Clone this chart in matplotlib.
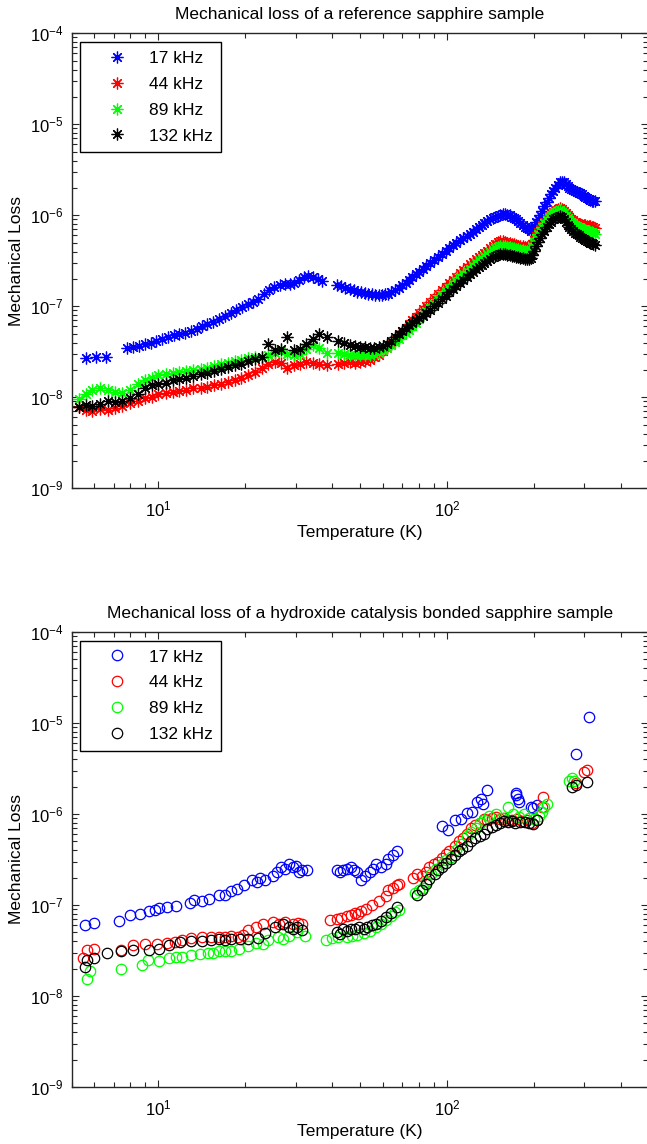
import matplotlib
matplotlib.use("Agg")
import matplotlib.pyplot as plt
import numpy as np
from matplotlib.ticker import LogLocator, NullFormatter

plt.rcParams['font.family'] = ['Liberation Sans', 'DejaVu Sans']
plt.rcParams['mathtext.default'] = 'regular'
plt.rcParams['axes.unicode_minus'] = False

# ---------------- data: reference sapphire sample (top) ----------------
T_top_blue = [5.6, 6.1, 6.6, 7.8, 8.2, 8.6, 9.0, 9.4, 9.8, 10.3, 10.8, 11.3, 11.8, 12.4,
              13.0, 13.6, 14.2, 14.8, 15.5, 16.2, 17.0, 17.8, 18.6, 19.5, 20.4, 21.3, 22.2,
              23.2, 24.2, 25.2, 26.3, 27.4, 28.5, 29.6, 30.7, 31.9, 33.1, 34.4, 35.7, 37.0,
              41.5, 43, 44.5, 46, 47.5, 49, 50.5, 52, 53.5, 55, 56.5, 58, 59.5, 61, 62.5, 64,
              66, 68, 70, 72, 74, 76, 78, 80, 82.5, 85, 87.5, 90,
              93, 96, 99, 102, 105, 108, 111, 114, 117, 120, 123, 126, 129, 132, 135, 138,
              141, 144, 147, 150, 153, 156, 159, 162, 165, 168, 171, 174, 177, 180, 183, 186,
              189, 192, 195, 198, 201, 204, 207, 210,
              214, 218, 222, 226, 230, 234, 238, 242, 246, 250, 254, 258, 262, 266, 270, 274,
              278, 282, 286, 290, 294, 298, 302, 306, 310, 314, 318, 322, 326]
loss_top_17 = [27, 28, 28, 35, 36, 37, 39, 40, 42, 44, 46, 48, 50, 51, 54, 56, 60, 64, 68, 73,
               79, 85, 90, 98, 105, 112, 120, 135, 150, 165, 170, 175, 175, 180, 195, 210, 215,
               210, 200, 190,
               170, 168, 160, 155, 150, 145, 142, 140, 138, 135, 133, 133, 132, 135, 138, 142,
               150, 160, 170, 182, 195, 210, 225, 240, 260, 280, 300, 320,
               350, 380, 410, 440, 470, 500, 530, 560, 590, 620, 660, 700, 740, 780, 820, 860,
               900, 930, 960, 990, 1020, 1030, 1030, 1020, 1000, 970, 940, 900, 860, 820, 780,
               750, 720, 700, 680, 700, 760, 840, 920, 1000,
               1120, 1250, 1400, 1550, 1700, 1850, 2000, 2150, 2300, 2350, 2300, 2200, 2100,
               2000, 1950, 1900, 1850, 1800, 1780, 1750, 1700, 1650, 1600, 1550, 1500, 1480,
               1450, 1450, 1420]

T_top = [5.3, 5.6, 5.9, 6.3, 6.7, 7.1, 7.5, 8.0, 8.5, 9.0, 9.5, 10.0, 10.6, 11.2, 11.8, 12.5,
         13.2, 14.0, 14.8, 15.6, 16.5, 17.4, 18.4, 19.4, 20.5, 21.6, 22.8, 24.0, 25.3, 26.6,
         28.0, 29.5, 31.0, 32.6, 34.3, 36.0, 38.5,
         42, 44, 46, 48, 50, 52, 54, 56, 58, 60, 62, 64, 66, 68, 70, 72, 74, 76, 78, 80,
         82.5, 85, 87.5, 90,
         93, 96, 99, 102, 105, 108, 111, 114, 117, 120, 123, 126, 129, 132, 135, 138,
         141, 144, 147, 150, 153, 156, 159, 162, 165, 168, 171, 174, 177, 180, 183, 186,
         189, 192, 195, 198, 201, 204, 207, 210,
         214, 218, 222, 226, 230, 234, 238, 242, 246, 250, 254, 258, 262, 266, 270, 274,
         278, 282, 286, 290, 294, 298, 302, 306, 310, 314, 318, 322, 326]
loss_top_44 = [7.8, 7.2, 7.0, 7.4, 7.3, 7.6, 8.0, 8.6, 9.2, 9.8, 10.2, 10.8, 11.2, 11.5, 11.8,
               12.0, 12.5, 12.8, 13.0, 13.5, 14.0, 14.8, 15.5, 16.2, 17.5, 19, 21, 23.5, 24.5,
               24, 21, 22.5, 23.5, 24.5, 24, 23, 22.5,
               23, 24, 24.5, 24, 24.5, 25, 26, 27.5, 29.5, 32, 35, 39, 43, 48, 53, 58, 64, 70,
               77, 84,
               93, 102, 112, 122,
               135, 150, 165, 180, 195, 210, 230, 250, 270, 290, 310, 330, 350, 370, 390, 410,
               435, 460, 485, 510, 520, 520, 510, 500, 490, 485, 480, 470, 465, 460, 455, 450,
               450, 445, 450, 480, 530, 590, 650, 710,
               780, 850, 920, 980, 1040, 1100, 1150, 1180, 1200, 1180, 1120, 1060, 1000, 950,
               910, 880, 850, 830, 810, 800, 790, 780, 780, 770, 760, 760, 750, 740, 730]
loss_top_89 = [9.5, 11, 12, 12.5, 12, 11.5, 11.2, 12, 14, 15.5, 16.5, 17.5, 18, 18.5, 19, 19.5,
               20, 20.5, 21, 22, 23, 24, 25, 26, 27, 27.5, 28, 29, 31, 32, 30, 29.5, 30, 34,
               38, 35, 31,
               30.5, 30, 29.5, 29, 29, 29, 29.5, 30, 31, 33, 35, 38, 41, 44, 48, 51, 55, 60, 66,
               73,
               80, 88, 97, 107,
               120, 133, 147, 160, 175, 190, 208, 225, 242, 260, 280, 300, 320, 335, 355, 375,
               395, 415, 435, 450, 460, 460, 455, 450, 445, 440, 435, 430, 425, 420, 415, 410,
               410, 410, 420, 450, 500, 560, 620, 680,
               750, 820, 890, 950, 1000, 1050, 1090, 1120, 1130, 1100, 1050, 990, 940, 890,
               850, 820, 790, 770, 750, 730, 710, 700, 690, 680, 670, 660, 650, 640, 630]
loss_top_132 = [7.8, 8.2, 8.0, 8.5, 9.0, 8.8, 9.2, 9.8, 11, 12.5, 13.5, 14, 14.5, 15.5, 16,
                16.5, 17.2, 18, 18.5, 19.5, 20.5, 21.5, 22.5, 23.5, 25, 26.5, 28, 39, 33, 34,
                46, 33, 34, 39, 44, 49, 46,
                42, 40, 38, 37, 36, 35.5, 35, 35, 35.5, 37, 39, 42, 46, 50, 54, 58, 62, 66, 70,
                74,
                79, 85, 92, 100,
                110, 120, 130, 142, 155, 168, 182, 195, 210, 225, 240, 255, 270, 285, 300, 315,
                330, 345, 360, 370, 380, 380, 375, 370, 365, 360, 355, 350, 345, 340, 340, 335,
                335, 335, 340, 370, 410, 460, 510, 560,
                620, 680, 740, 800, 850, 900, 940, 970, 980, 950, 900, 840, 790, 740, 700, 670,
                640, 620, 600, 580, 565, 550, 535, 520, 510, 500, 490, 480, 470]

# ---------------- data: bonded sapphire sample (bottom) ----------------
T_bot_17 = [5.56, 6.0, 7.3, 7.98, 8.67, 9.27, 9.7, 10.06, 10.7, 11.5, 12.9, 13.3, 14.2, 14.96,
            16.2, 17.0, 17.9, 18.8, 19.8, 21.1, 22.0, 22.5, 23.5, 24.9, 25.7, 26.6, 27.5, 28.4,
            29.3, 30.0, 30.8, 31.4, 32.7,
            41.5, 42.5, 43.7, 45, 46.6, 47.5, 48.9, 50.6, 52, 54.2, 55.5, 56.8, 59, 61.5, 62.7,
            65, 67,
            96.4, 101, 106.6, 111.8, 117, 122, 127, 131, 133, 138,
            173, 174, 176, 178, 195, 199, 205,
            280, 310]
loss_bot_17 = [60, 63, 66, 77, 80, 85, 88, 92, 95, 97, 106, 113, 110, 115, 129, 130, 143, 150,
               165, 188, 180, 200, 190, 210, 230, 260, 250, 285, 260, 270, 230, 240, 240,
               243, 230, 243, 250, 260, 240, 230, 190, 210, 230, 250, 280, 260, 280, 320, 350,
               390,
               730, 670, 860, 890, 1020, 1050, 1370, 1450, 1300, 1840,
               1700, 1600, 1450, 1350, 1200, 1150, 1250,
               4600, 11500]

T_bot_44 = [5.46, 5.65, 6.0, 7.4, 8.2, 9.0, 9.9, 10.7, 11.4, 12.1, 13.0, 14.2, 15.2, 16.2, 17.0,
            17.9, 18.9, 19.6, 20.4, 21.8, 23.0, 24.9, 26.2, 27.5, 29.3, 30.5, 31.4,
            39.5, 41.5, 43, 45, 46.5, 48, 49.3, 50.5, 52.5, 55, 58, 61.5, 62.5, 65, 67, 68,
            76.4, 79, 82, 84.5, 87, 90, 93, 96, 99, 102, 106.6, 110, 114, 117, 121, 125, 130,
            134, 138, 143, 148, 153, 158, 163, 168, 175, 182, 190, 198, 205, 213, 216,
            280, 300, 305]
loss_bot_44 = [26, 32, 33, 32, 36, 37, 37.5, 38.5, 39, 41, 43, 44, 44, 45, 44, 46, 44, 47, 53,
               57.5, 62, 65, 62, 65, 62, 64, 62,
               68, 71, 72, 75, 78, 81, 80, 85, 90, 100, 110, 124, 147, 155, 166, 170,
               200, 220, 210, 230, 260, 280, 300, 330, 360, 390, 440, 510, 540, 600, 710, 750,
               800, 890, 850, 900, 920, 880, 900, 860, 850, 880, 830, 860, 800, 850, 1200, 1550,
               2200, 2900, 3050]

T_bot_89 = [5.65, 5.8, 7.4, 8.8, 9.2, 10.06, 10.9, 11.5, 12.1, 13.0, 13.9, 14.9, 15.5, 16.2,
            17.0, 17.9, 19.0, 20.4, 21.8, 23.0, 24.0, 25.9, 27.0, 28.4, 30.3, 32.3,
            38, 40, 42, 45, 47, 49, 51.6, 54, 57, 59, 61.5, 64, 66, 68,
            77.6, 80, 82.4, 85, 88.4, 92, 96, 99.7, 103, 108, 112, 117, 121, 126, 130, 134,
            140, 148, 155, 163, 170, 178, 185, 193, 200, 208, 213, 218, 222,
            266, 272, 275]
loss_bot_89 = [15.5, 19, 20, 22, 25, 24.5, 26, 26.5, 27, 28, 29, 30, 30, 31, 31, 31.5, 33, 35,
               38, 37, 41, 44, 42, 46, 50, 46,
               41, 43, 44, 45, 46, 47, 49, 52, 57.5, 62, 69, 75, 83, 89,
               135, 145, 155, 180, 220, 250, 280, 310, 340, 400, 470, 570, 630, 700, 800, 860,
               950, 1000, 900, 1200, 1000, 920, 1000, 900, 880, 950, 1050, 1200, 1300,
               2300, 2500, 2300]

T_bot_132 = [5.56, 5.65, 6.0, 6.65, 7.4, 8.2, 9.27, 10.06, 10.9, 11.9, 13.0, 14.2, 15.2, 16.2,
             17.0, 17.9, 19.2, 20.5, 22.2, 23.4, 25.3, 27.0, 28.4, 29.4, 30.3, 31.4,
             41.5, 42.5, 43.7, 45, 46.6, 48, 49.8, 51.5, 53, 55, 57, 59, 61.5, 64, 67,
             79, 82, 84.5, 87, 90.7, 93, 96, 99.7, 103, 106.6, 110, 113, 117, 121, 125, 130,
             134, 138, 143, 148, 153, 158, 163, 168, 172, 180, 186, 193, 199, 205,
             272, 280, 305]
loss_bot_132 = [21, 25, 26, 30, 31, 32, 32, 33, 36, 39, 40, 40, 41, 42, 41, 42, 42, 42, 43, 49,
                57.5, 62, 57.5, 55, 57.5, 53,
                51, 48, 55, 52, 55, 54, 57.5, 55, 57, 60, 62, 66, 74, 82, 96,
                130, 145, 170, 195, 220, 240, 260, 290, 320, 350, 390, 410, 440, 500, 540, 580,
                610, 680, 720, 760, 800, 830, 810, 840, 800, 810, 820, 790, 780, 860,
                2000, 2100, 2250]

UNIT = 1e-9  # all loss values above are in units of 1e-9
labels = ['17 kHz', '44 kHz', '89 kHz', '132 kHz']
colors = ['#0000ff', '#ff0000', '#00ff00', '#000000']

top_series = [(T_top_blue, loss_top_17), (T_top, loss_top_44), (T_top, loss_top_89),
              (T_top, loss_top_132)]
bot_series = [(T_bot_17, loss_bot_17), (T_bot_44, loss_bot_44), (T_bot_89, loss_bot_89),
              (T_bot_132, loss_bot_132)]

W, H = 647, 1144
fig = plt.figure(figsize=(W / 100, H / 100), dpi=100)
ax_l = 71.5 / W
ax_w = 577 / W
ax_h = 455 / H
ax1 = fig.add_axes([ax_l, 1 - 488.3 / H, ax_w, ax_h])
ax2 = fig.add_axes([ax_l, 1 - 1087 / H, ax_w, ax_h])

FS = 12
for (T, v), c, lab in zip(top_series, colors, labels):
    ax1.plot(T, np.array(v) * UNIT, linestyle='none', marker=(8, 2, 0), markersize=8.5,
             markeredgewidth=0.9, color=c, label=lab)
for (T, v), c, lab in zip(bot_series, colors, labels):
    ax2.plot(T, np.array(v) * UNIT, linestyle='none', marker='o', markersize=7.5,
             markeredgewidth=0.9, markerfacecolor='none', markeredgecolor=c, label=lab)

titles = ['Mechanical loss of a reference sapphire sample',
          'Mechanical loss of a hydroxide catalysis bonded sapphire sample']
for ax, ttl in zip([ax1, ax2], titles):
    ax.set_xscale('log')
    ax.set_yscale('log')
    ax.set_xlim(5, 500)
    ax.set_ylim(1e-9, 1e-4)
    ax.yaxis.set_major_locator(LogLocator(base=10, numticks=10))
    ax.yaxis.set_minor_locator(LogLocator(base=10, subs=np.arange(2, 10), numticks=10))
    ax.xaxis.set_minor_locator(LogLocator(base=10, subs=np.arange(2, 10), numticks=10))
    ax.xaxis.set_minor_formatter(NullFormatter())
    ax.yaxis.set_minor_formatter(NullFormatter())
    ax.tick_params(which='both', direction='in', top=True, right=True, labelsize=FS,
                   width=0.8, colors='#262626', labelcolor='black')
    ax.tick_params(which='major', length=5, pad=6)
    ax.tick_params(axis='x', which='major', pad=8)
    ax.tick_params(which='minor', length=3.5)
    for s in ax.spines.values():
        s.set_linewidth(1.0)
        s.set_color('#262626')
    ax.set_title(ttl, fontsize=12.5, pad=10)
    ax.set_xlabel('Temperature (K)', fontsize=12.5, labelpad=4)
    ax.set_ylabel('Mechanical Loss', fontsize=12.5, labelpad=4)
    leg = ax.legend(loc='upper left', fontsize=12.5, frameon=True, fancybox=False,
                    edgecolor='black', framealpha=1, borderpad=0.5, handlelength=3.2,
                    handletextpad=0.25, labelspacing=0.62, borderaxespad=0.5,
                    numpoints=1)
    leg.get_frame().set_linewidth(1.0)

fig.savefig('out.png', dpi=100)
